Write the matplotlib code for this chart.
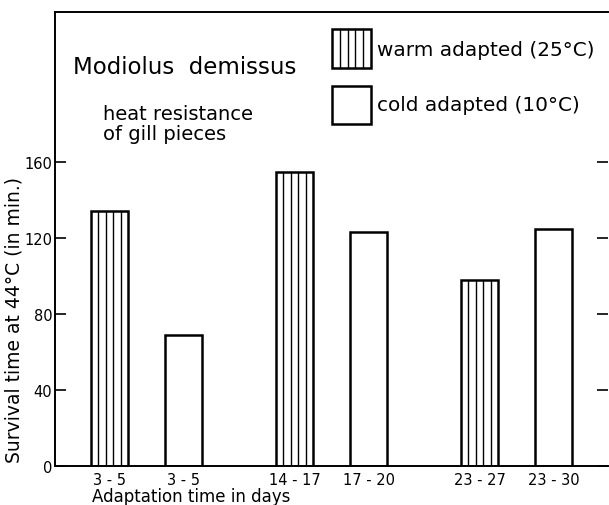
import matplotlib.pyplot as plt
from matplotlib.patches import Rectangle

# survival time at 44 C of gill pieces
day_labels = ["3 - 5", "3 - 5", "14 - 17", "17 - 20", "23 - 27", "23 - 30"]
survival = [134, 69, 155, 123, 98, 125]
group = ["warm", "cold", "warm", "cold", "warm", "cold"]
positions = [0, 2, 5, 7, 10, 12]
yticks = [0, 40, 80, 120, 160]

plt.rcParams['font.family'] = ['DejaVu Sans']

fig = plt.figure(figsize=(6.09, 5.06), dpi=100)
ax = fig.add_axes([55 / 609, 39 / 506, 553 / 609, 454 / 506])

ax.bar(positions, survival, width=1, color='white', edgecolor='black',
       linewidth=1.8, zorder=2)

# vertical stripes on the warm adapted bars
for x, h, g in zip(positions, survival, group):
    if g == "warm":
        xs = [x - 0.5 + k * 0.2 for k in range(1, 5)]
        ax.vlines(xs, 0, h, color='black', linewidth=1.0, zorder=3)

ax.set_xlim(-1.47, 13.47)
ax.set_ylim(0, 239)
ax.set_xticks(positions)
ax.set_xticklabels(day_labels, fontsize=10.5)
ax.set_yticks(yticks)
ax.set_yticklabels([str(v) for v in yticks], fontsize=10.5)
ax.tick_params(axis='x', length=0, pad=4)
ax.tick_params(axis='y', direction='in', length=8, width=1.2, pad=2,
               right=True)

ax.spines['right'].set_visible(False)
for s in ['left', 'top', 'bottom']:
    ax.spines[s].set_linewidth(1.4)

ax.set_xlabel("Adaptation time in days", fontsize=12, ha='left', va='center')
ax.xaxis.set_label_coords(0.067, -0.066)
ax.set_ylabel("Survival time at 44\u00b0C (in min.)", fontsize=13.5,
              va='center')
ax.yaxis.set_label_coords(-0.074, 0.324)

# title texts
ax.text(0.033, 0.879, "Modiolus  demissus", transform=ax.transAxes,
        fontsize=16.5, va='center', ha='left')
ax.text(0.087, 0.755, "heat resistance\nof gill pieces", transform=ax.transAxes,
        fontsize=14, va='center', ha='left', linespacing=1.05)

# key boxes
bx, bw = 0.501, 0.0705
ax.add_patch(Rectangle((bx, 0.877), bw, 0.086, transform=ax.transAxes,
                       facecolor='white', edgecolor='black', linewidth=1.8))
for k in range(1, 5):
    xk = bx + k * bw / 5
    ax.plot([xk, xk], [0.877, 0.963], transform=ax.transAxes,
            color='black', linewidth=1.0)
ax.add_patch(Rectangle((bx, 0.753), bw, 0.084, transform=ax.transAxes,
                       facecolor='white', edgecolor='black', linewidth=1.8))
ax.text(0.582, 0.918, "warm adapted (25\u00b0C)", transform=ax.transAxes,
        fontsize=14.4, va='center', ha='left')
ax.text(0.582, 0.797, "cold adapted (10\u00b0C)", transform=ax.transAxes,
        fontsize=14.4, va='center', ha='left')

fig.savefig("out.png", dpi=100)
